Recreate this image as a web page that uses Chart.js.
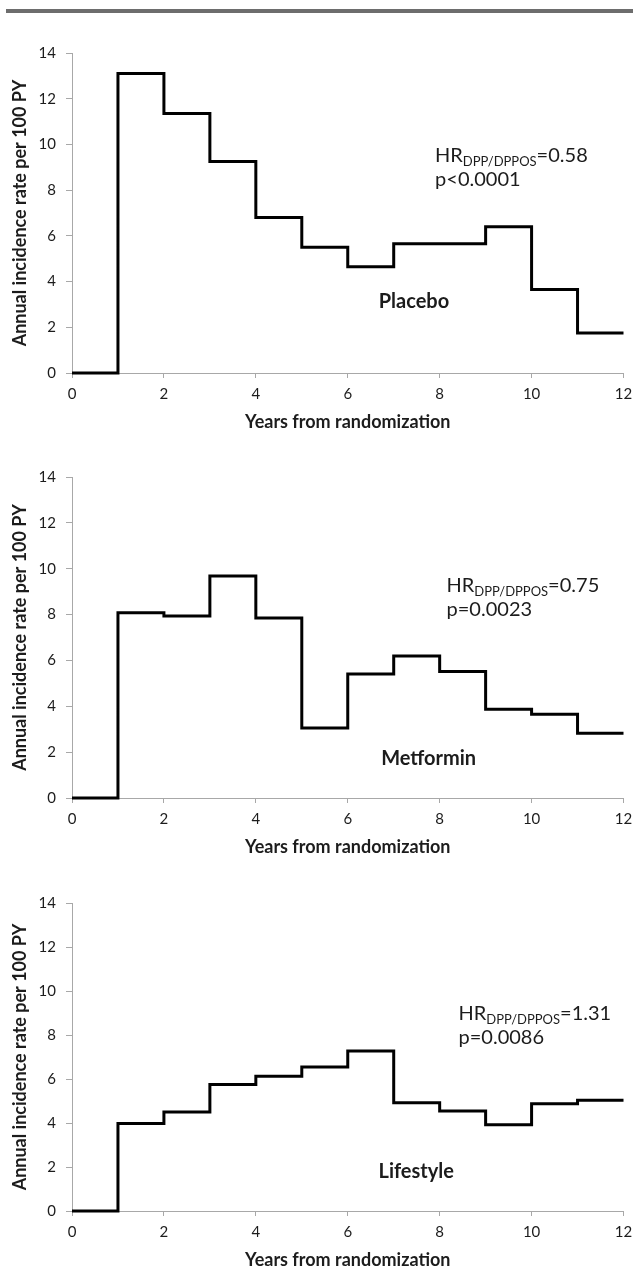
<!DOCTYPE html>
<html>
<head>
<meta charset="utf-8">
<script src="https://cdn.jsdelivr.net/npm/chart.js@4"></script>
<style>
  html, body { margin: 0; padding: 0; background: #fff; overflow: hidden; }
  body { width: 633px; height: 1272px; position: relative; }
  .topbar { position: absolute; left: 6px; right: 0; top: 9px; height: 4px; background: #6d6d6d; }
  canvas { position: absolute; left: 0; }
</style>
</head>
<body>
<div class="topbar"></div>
<canvas id="chart1" width="633" height="404" style="top:31px"></canvas>
<canvas id="chart2" width="633" height="405" style="top:455px"></canvas>
<canvas id="chart3" width="633" height="392" style="top:881px"></canvas>
<script>
// interval edges (years) and the annual rate inside each one-year interval
const yearEdges = [0, 1, 2, 3, 4, 5, 6, 7, 8, 9, 10, 11, 12];
const placeboRates = [0, 13.1, 11.35, 9.25, 6.8, 5.5, 4.65, 5.65, 5.65, 6.4, 3.65, 1.75];
const metforminRates = [0, 8.08, 7.94, 9.68, 7.85, 3.05, 5.41, 6.19, 5.52, 3.87, 3.65, 2.82];
const lifestyleRates = [0, 3.98, 4.5, 5.75, 6.13, 6.54, 7.27, 4.92, 4.55, 3.92, 4.88, 5.03];

const groupNames = ["Placebo", "Metformin", "Lifestyle"];
const hrValues = ["0.58", "0.75", "1.31"];
const pValues = ["p<0.0001", "p=0.0023", "p=0.0086"];

const FONT = "Lato, 'Noto Sans', sans-serif";
const AXIS_GREY = "#a8a8a8";
const TEXT = "#1c1c1c";

// text placed in data units: [hr x, hr baseline y], [name centre x, name centre y]
const notePlaces = [
  { hr: [7.9, 9.22], name: [7.44, 3.12] },
  { hr: [8.15, 8.98], name: [7.76, 1.72] },
  { hr: [8.41, 8.7], name: [7.49, 1.79] }
];

const notesPlugin = {
  id: "notes",
  afterDatasetsDraw(chart, args, opts) {
    const { ctx, scales: { x, y } } = chart;
    ctx.save();
    ctx.fillStyle = TEXT;
    ctx.textBaseline = "alphabetic";
    ctx.textAlign = "left";
    let px = x.getPixelForValue(opts.hr[0]);
    const py = y.getPixelForValue(opts.hr[1]);
    ctx.font = "20px " + FONT;
    ctx.fillText("HR", px, py);
    px += ctx.measureText("HR").width;
    ctx.font = "13px " + FONT;
    ctx.fillText("DPP/DPPOS", px, py + 4);
    px += ctx.measureText("DPP/DPPOS").width;
    ctx.font = "20px " + FONT;
    ctx.fillText("=" + opts.hrValue, px, py);
    ctx.fillText(opts.pText, x.getPixelForValue(opts.hr[0]), py + 24);

    ctx.font = "bold 20px " + FONT;
    ctx.textAlign = "center";
    ctx.textBaseline = "middle";
    ctx.fillText(opts.groupName, x.getPixelForValue(opts.name[0]), y.getPixelForValue(opts.name[1]));
    ctx.restore();
  }
};

const mountPanel = (canvasId, rates, idx) => {
  // each edge carries the rate of the interval that starts there; the last edge closes the final interval
  const points = yearEdges.map((yr, i) => ({ x: yr, y: rates[Math.min(i, rates.length - 1)] }));
  new Chart(document.getElementById(canvasId), {
    type: "line",
    data: {
      datasets: [{
        data: points,
        stepped: "before",
        borderColor: "#000",
        borderWidth: 3,
        pointRadius: 0,
        fill: false,
        clip: false,
        borderJoinStyle: "miter"
      }]
    },
    options: {
      responsive: false,
      animation: false,
      events: [],
      layout: { padding: { top: 22, right: 9.5, bottom: 0, left: 0 } },
      plugins: {
        legend: { display: false },
        tooltip: { enabled: false },
        notes: {
          hr: notePlaces[idx].hr,
          name: notePlaces[idx].name,
          hrValue: hrValues[idx],
          pText: pValues[idx],
          groupName: groupNames[idx]
        }
      },
      scales: {
        x: {
          type: "linear",
          min: 0,
          max: 12,
          afterFit: (scale) => {
            scale.height = 62;
            scale.paddingRight = 0;
            scale.paddingLeft = 0;
          },
          ticks: { stepSize: 2, color: TEXT, font: { family: FONT, size: 15 }, padding: 7, maxRotation: 0 },
          grid: { drawOnChartArea: false, drawTicks: true, tickLength: 5, color: AXIS_GREY },
          border: { display: true, color: AXIS_GREY, width: 1 },
          title: {
            display: true,
            text: "Years from randomization",
            color: TEXT,
            font: { family: FONT, size: 18, weight: "bold" },
            padding: { top: 0, bottom: 2 }
          }
        },
        y: {
          min: 0,
          max: 14,
          afterFit: (scale) => { scale.width = 72; },
          ticks: { stepSize: 2, color: TEXT, font: { family: FONT, size: 15 }, padding: 10 },
          grid: { drawOnChartArea: false, drawTicks: true, tickLength: 6, color: AXIS_GREY },
          border: { display: true, color: AXIS_GREY, width: 1 },
          title: {
            display: true,
            text: "Annual incidence rate per 100 PY",
            color: TEXT,
            font: { family: FONT, size: 18, weight: "bold" },
            padding: { top: 9, bottom: 0 }
          }
        }
      }
    },
    plugins: [notesPlugin]
  });
};

mountPanel("chart1", placeboRates, 0);
mountPanel("chart2", metforminRates, 1);
mountPanel("chart3", lifestyleRates, 2);
</script>
</body>
</html>
